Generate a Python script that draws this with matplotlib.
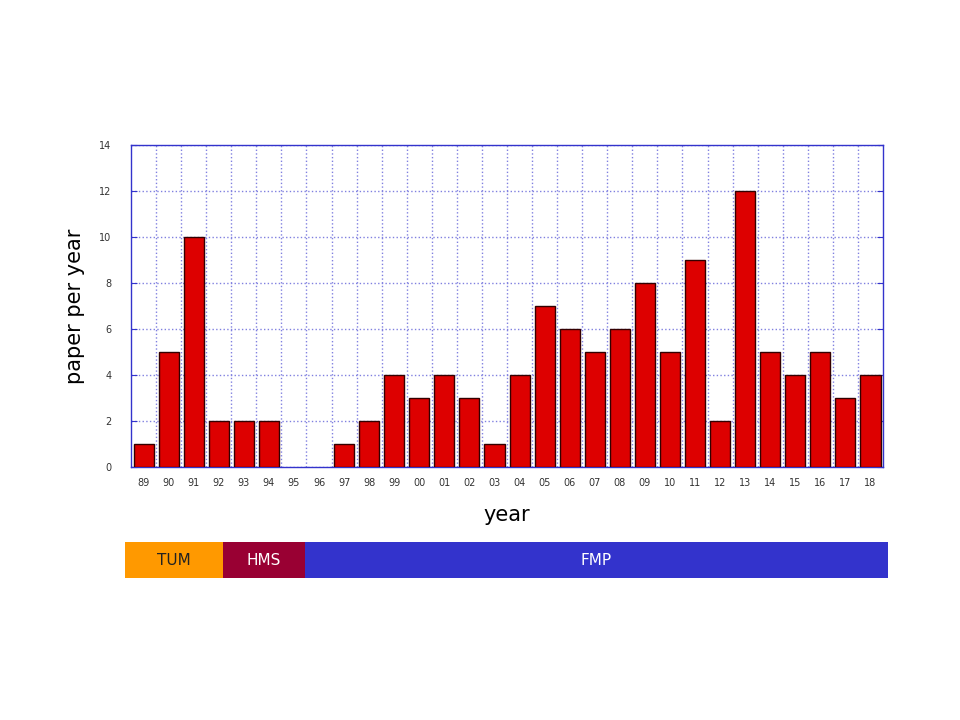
import numpy as np
import matplotlib
matplotlib.use('Agg')
import matplotlib.pyplot as plt

years = ['89', '90', '91', '92', '93', '94', '95', '96', '97', '98', '99',
         '00', '01', '02', '03', '04', '05', '06', '07', '08', '09', '10',
         '11', '12', '13', '14', '15', '16', '17', '18']
papers = [1, 5, 10, 2, 2, 2, 0, 0, 1, 2, 4, 3, 4, 3, 1, 4, 7, 6, 5, 6, 8,
          5, 9, 2, 12, 5, 4, 5, 3, 4]

periods = ['TUM', 'HMS', 'FMP']
period_spans = [98, 82, 583]
period_colors = ['#ff9900', '#990033', '#3333cc']
period_text = ['#222222', 'white', 'white']

fig = plt.figure(figsize=(9.6, 7.2), dpi=100)
ax = fig.add_axes([0.1365, 0.3514, 0.7833, 0.4472])

x = np.arange(len(years))
edge_w = [1 if p > 0 else 0 for p in papers]
ax.bar(x, papers, width=0.8, color='#dd0000', edgecolor='#330000',
       linewidth=edge_w, zorder=3)
ax.set_xlim(-0.5, len(years) - 0.5)
ax.set_ylim(0, 14)
ax.set_yticks(range(0, 15, 2))
ax.set_xticks(x)
ax.set_xticklabels(years)
ax.set_xticks(np.arange(0.5, len(years) - 1, 1), minor=True)
ax.tick_params(axis='x', which='both', length=0, labelsize=7, pad=8,
               labelcolor='#333333')
ax.tick_params(axis='y', length=4, direction='in', color='#3333cc',
               labelsize=7, pad=14, right=True, labelcolor='#333333')
ax.grid(False)
ax.grid(True, which='minor', axis='x', color='#8080e0', linestyle=':',
        linewidth=1, zorder=0)
ax.grid(True, which='major', axis='y', color='#8080e0', linestyle=':',
        linewidth=1, zorder=0)
for sp in ax.spines.values():
    sp.set_color('#3333cc')
    sp.set_linewidth(1)

ax.set_ylabel('paper per year', fontsize=15, labelpad=10)
ax.set_xlabel('year', fontsize=15, labelpad=12)

band = fig.add_axes([0.1302, 0.1972, 0.7948, 0.05])
left = 0
for name, w, c, tc in zip(periods, period_spans, period_colors, period_text):
    band.barh(0, w, left=left, height=1, color=c, linewidth=0)
    band.text(left + w / 2, 0, name, ha='center', va='center',
              fontsize=11, color=tc)
    left += w
band.set_xlim(0, sum(period_spans))
band.set_ylim(-0.5, 0.5)
band.axis('off')

plt.savefig('out.png', dpi=100)
